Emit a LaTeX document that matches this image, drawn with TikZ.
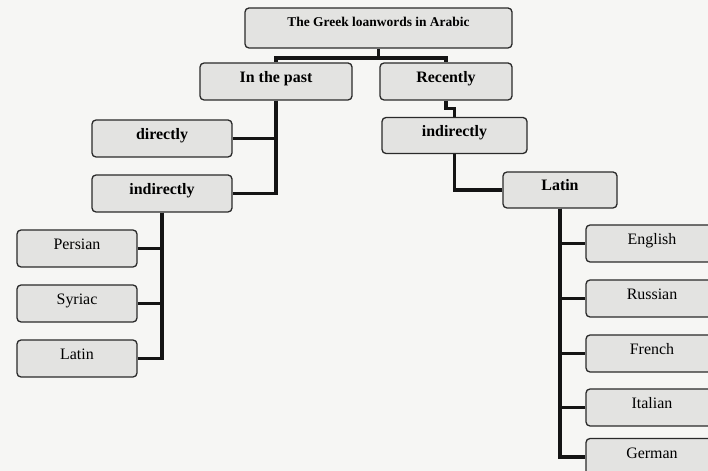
\documentclass[tikz,border=0pt]{standalone}
\usepackage{fontspec}
\setmainfont{Liberation Serif}
\definecolor{pagebg}{HTML}{F6F6F4}
\definecolor{boxfill}{HTML}{E3E3E1}
\definecolor{edgecol}{HTML}{2A2A2A}
\definecolor{wirecol}{HTML}{141414}
\pgfdeclarelayer{paper}
\pgfdeclarelayer{wires}
\pgfsetlayers{paper,wires,main}
\begin{document}
\begin{tikzpicture}[x=1bp,y=-1bp,
  box/.style={draw=edgecol, line width=1.3bp, fill=boxfill, rounded corners=4bp,
    inner sep=0pt, text height=11bp, text depth=9bp,
    font=\fontsize{16}{18}\selectfont, minimum height=37bp},
  bbox/.style={box, font=\fontsize{16}{18}\selectfont\bfseries},
  langbox/.style={box, minimum width=120bp},
  rlangbox/.style={box, minimum width=132bp},
  wire/.style={draw=wirecol, line width=3.3bp}]
\useasboundingbox (0,0) rectangle (708,471);
\clip (0,0) rectangle (708,471);

% nodes
\node[bbox, minimum width=267bp, minimum height=40bp, text height=9bp, text depth=11bp,
      font=\fontsize{13.5}{15}\selectfont\bfseries] (root) at (378.5,28) {The Greek loanwords in Arabic};
\node[bbox, minimum width=152bp] (past) at (276,81.5) {In the past};
\node[bbox, minimum width=132bp] (recent) at (446,81.5) {Recently};
\node[bbox, minimum width=140bp] (dir) at (162,138.5) {directly};
\node[bbox, minimum width=140bp] (indL) at (162,193.5) {indirectly};
\node[bbox, minimum width=145bp, minimum height=36bp] (indR) at (454.5,135.5) {indirectly};
\node[bbox, minimum width=114bp, minimum height=36bp] (latR) at (560,190) {Latin};

\node[langbox] (per) at (77,248.5) {Persian};
\node[langbox] (syr) at (77,303.5) {Syriac};
\node[langbox] (latL) at (77,358.5) {Latin};

\node[rlangbox] (eng) at (652,243.5) {English};
\node[rlangbox] (rus) at (652,298.5) {Russian};
\node[rlangbox] (fre) at (652,353.5) {French};
\node[rlangbox] (ita) at (652,407.5) {Italian};
\node[rlangbox] (ger) at (652,457) {German};

\coordinate (j1) at (378.5,58);

\begin{pgfonlayer}{paper}
\fill[pagebg] (0,0) rectangle (708,471);
\end{pgfonlayer}

\begin{pgfonlayer}{wires}
\draw[wire] (root.south) -- (j1);
\draw[wire] (past.north) |- (j1) -| (recent.north);
\draw[wire] (past.south) |- (dir.east);
\draw[wire] (past.south) |- (indL.east);
\draw[wire] (recent.south) -- ++(0,8) -| (indR.north);
\draw[wire] (indR.south) |- (latR.west);
\draw[wire] (indL.south) |- (per.east);
\draw[wire] (indL.south) |- (syr.east);
\draw[wire] (indL.south) |- (latL.east);
\draw[wire] (latR.south) |- (eng.west);
\draw[wire] (latR.south) |- (rus.west);
\draw[wire] (latR.south) |- (fre.west);
\draw[wire] (latR.south) |- (ita.west);
\draw[wire] (latR.south) |- (ger.west);
\end{pgfonlayer}
\end{tikzpicture}
\end{document}
